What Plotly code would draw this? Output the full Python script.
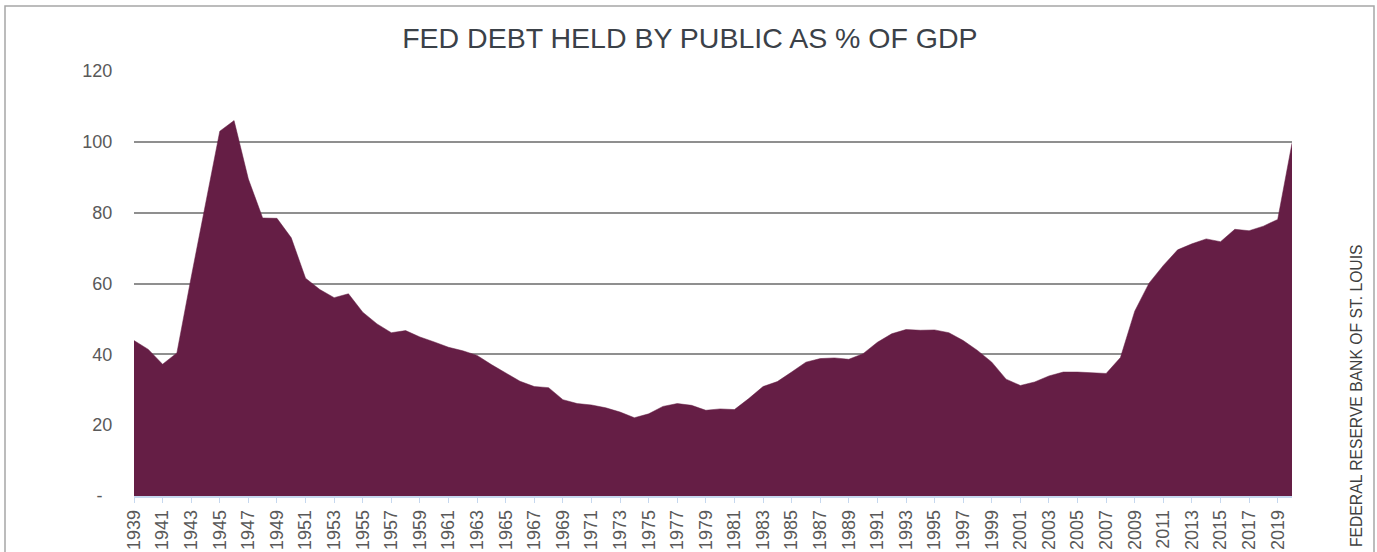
import plotly.graph_objects as go

years = list(range(1939, 2021))
debt_pct_gdp = [
    43.9, 41.4, 37.2, 40.4, 61.8, 81.9, 103.0, 106.0, 89.5, 78.5,  # 1939-1948
    78.4, 72.9, 61.5, 58.3, 56.0, 57.1, 51.9, 48.6, 46.1, 46.7,   # 1949-1958
    44.9, 43.5, 42.0, 41.0, 39.7, 37.1, 34.7, 32.4, 30.9, 30.6,   # 1959-1968
    27.2, 26.1, 25.7, 24.9, 23.7, 22.1, 23.2, 25.3, 26.1, 25.6,   # 1969-1978
    24.2, 24.6, 24.4, 27.5, 30.9, 32.3, 35.0, 37.8, 38.8, 39.0,   # 1979-1988
    38.6, 40.2, 43.4, 45.8, 47.0, 46.8, 46.9, 46.1, 43.9, 41.1,   # 1989-1998
    37.8, 33.0, 31.2, 32.2, 33.9, 35.0, 35.0, 34.8, 34.6, 39.1,   # 1999-2008
    52.2, 60.1, 65.1, 69.5, 71.2, 72.6, 71.8, 75.3, 74.9, 76.2,   # 2009-2018
    78.1, 99.6,                                                    # 2019-2020
]

y_tick_vals = [0, 20, 40, 60, 80, 100, 120]
y_tick_text = ["-\u00a0\u00a0", "20", "40", "60", "80", "100", "120"]

title_text = "FED DEBT HELD BY PUBLIC AS % OF GDP"
source_text = "FEDERAL RESERVE BANK OF ST. LOUIS"

AREA = "#651E45"
FONT = "Liberation Sans, Arial, sans-serif"

fig = go.Figure()
fig.add_trace(go.Scatter(
    x=years, y=debt_pct_gdp,
    mode="lines", fill="tozeroy",
    fillcolor=AREA, line=dict(color=AREA, width=0.5),
    hoverinfo="x+y", showlegend=False,
))

fig.update_layout(
    width=1377, height=552,
    margin=dict(l=134, r=85, t=71, b=56, autoexpand=False),
    paper_bgcolor="white", plot_bgcolor="white",
    font=dict(family=FONT, size=18, color="#595959"),
    title=dict(
        text=title_text, xref="container", yref="container",
        x=0.501, y=1 - 38 / 552, xanchor="center", yanchor="middle",
        font=dict(family=FONT, size=28.5, color="#3b4148"),
    ),
    xaxis=dict(
        range=[1939, 2020], tick0=1939, dtick=2, automargin=False,
        tickangle=-90, ticks="outside", ticklen=5, tickcolor="#c6d8ef", tickwidth=1,
        showline=True, linecolor="#c6d8ef", linewidth=1.5,
        showgrid=False, zeroline=False,
        tickfont=dict(family=FONT, size=18, color="#595959"),
    ),
    yaxis=dict(
        range=[0, 120], tickvals=y_tick_vals, ticktext=y_tick_text, automargin=False,
        ticks="outside", ticklen=17, tickcolor="rgba(0,0,0,0)",
        showgrid=True, gridcolor="#8f8f8f", gridwidth=1.5,
        zeroline=False, showline=False,
        tickfont=dict(family=FONT, size=18, color="#595959"),
    ),
    annotations=[dict(
        text=source_text, textangle=-90,
        xref="paper", yref="paper", x=(1356 - 134) / 1158, y=(496 - 395) / 425,
        xanchor="center", yanchor="middle", showarrow=False,
        font=dict(family=FONT, size=15.7, color="#404040"),
    )],
    shapes=[dict(
        type="rect", xref="paper", yref="paper",
        x0=(5 - 134) / 1158, x1=(1374 - 134) / 1158,
        y0=(496 - 600) / 425, y1=(496 - 6) / 425,
        line=dict(color="#a6a6a6", width=1.5), fillcolor="rgba(0,0,0,0)",
        layer="below",
    )],
)

fig.write_html("out.html")
